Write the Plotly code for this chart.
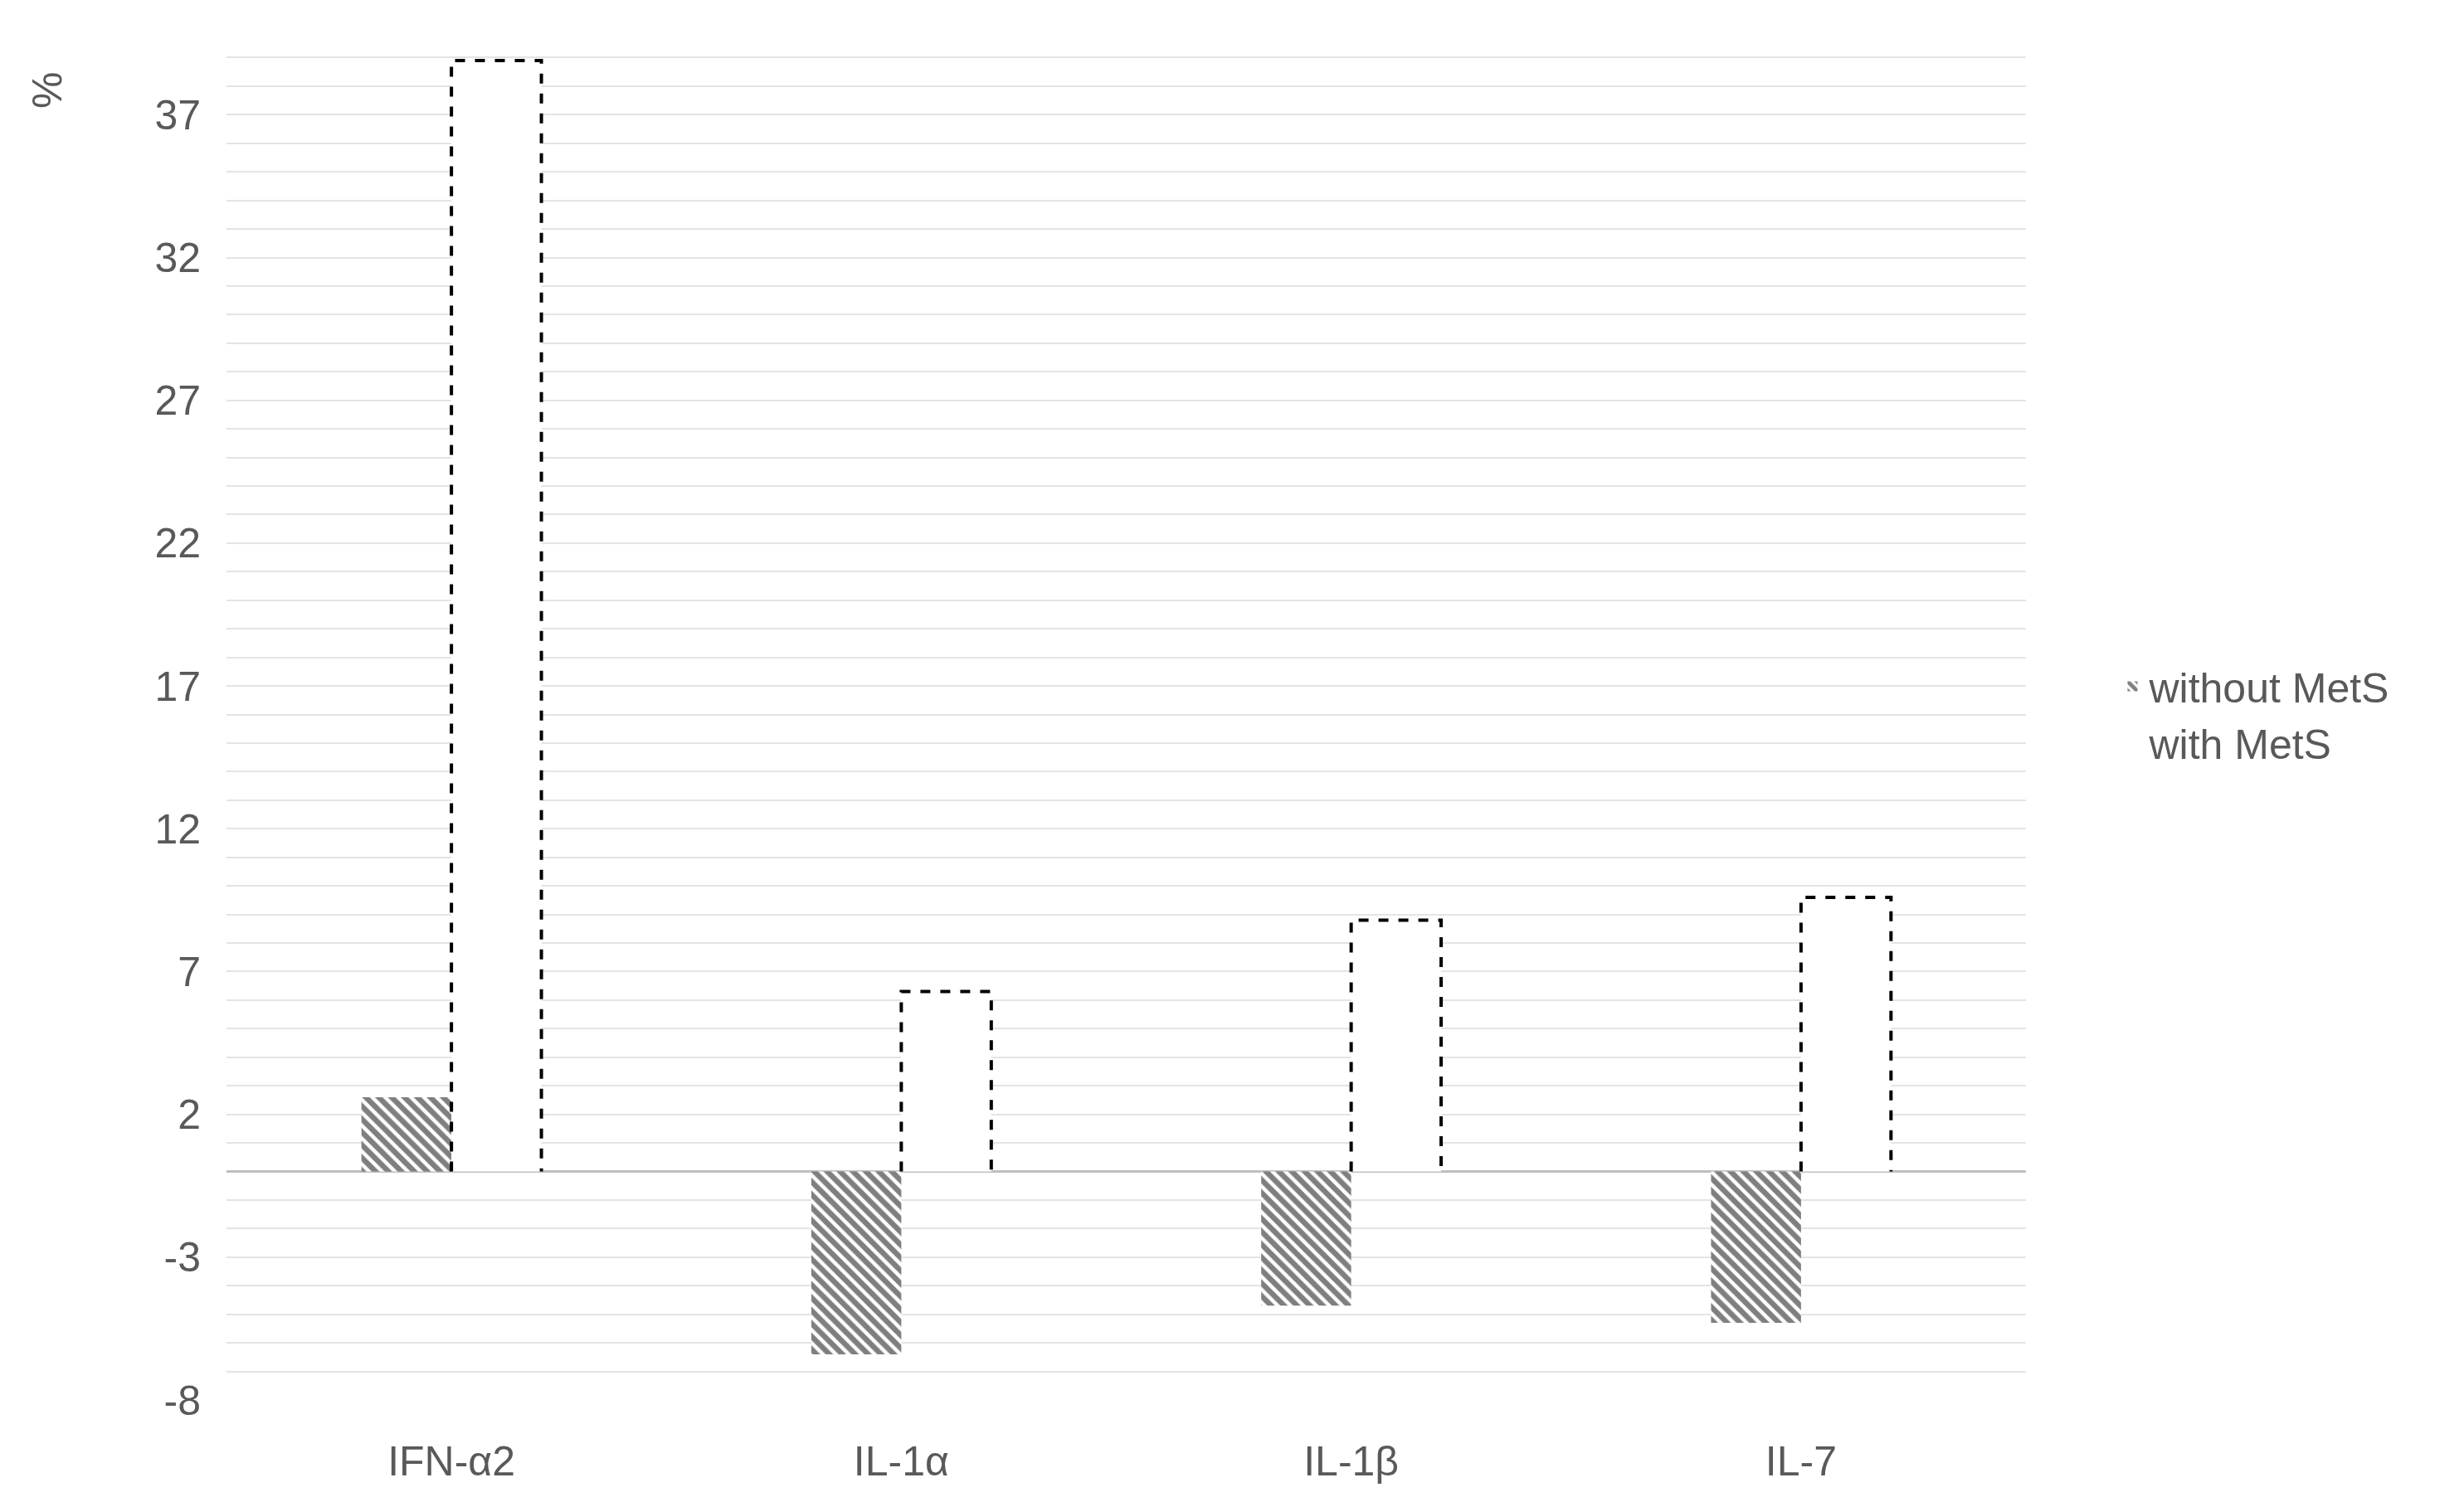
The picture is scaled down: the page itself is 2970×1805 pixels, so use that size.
import plotly.graph_objects as go

categories = ["IFN-α2", "IL-1α", "IL-1β", "IL-7"]
without_mets = [2.6, -6.4, -4.7, -5.3]
with_mets = [38.9, 6.3, 8.8, 9.6]
tick_vals = [-8, -3, 2, 7, 12, 17, 22, 27, 32, 37]
tick_text = [str(v) for v in tick_vals]

xs = list(range(len(categories)))
fig = go.Figure()
fig.add_bar(x=xs, y=without_mets, name="without MetS",
            marker=dict(color="white", line=dict(width=0),
                        pattern=dict(shape="\\", fgcolor="black", bgcolor="white", size=11, solidity=0.6)))
fig.add_bar(x=xs, y=with_mets, name="with MetS",
            marker=dict(color="white", line=dict(color="black", width=0)))
w = 0.2
for i, v in zip(xs, with_mets):
    fig.add_scatter(x=[i, i, i + w, i + w], y=[0, v, v, 0], mode="lines",
                    line=dict(color="black", width=4, dash="dash"), showlegend=False, hoverinfo="skip")

fig.update_layout(
    width=2970, height=1805, barmode="group", bargap=0.6, bargroupgap=0,
    plot_bgcolor="white", paper_bgcolor="white",
    margin=dict(l=265, r=536, t=27, b=125),
    font=dict(family="Liberation Sans, Arial", size=50, color="#595959"),
    legend=dict(x=1.05, y=0.5, yanchor="middle", font=dict(size=50, color="#595959"),
                itemwidth=30, tracegroupgap=60),
    xaxis=dict(tickvals=xs, ticktext=categories, range=[-0.5, 3.5], showgrid=False,
               showline=False, ticks="", zeroline=False, ticklabelstandoff=40),
    yaxis=dict(range=[-8, 40], tickvals=tick_vals, ticktext=tick_text, showgrid=True,
               gridcolor="#e4e4e4", gridwidth=2,
               zeroline=True, zerolinecolor="#bfbfbf", zerolinewidth=3, ticks="", ticklabelstandoff=30,
               minor=dict(dtick=1, tick0=-8, showgrid=True, gridcolor="#e4e4e4", gridwidth=2)),
    annotations=[dict(text="%", xref="paper", yref="paper", x=-0.1, y=0.97, xanchor="center",
                      textangle=90, showarrow=False, font=dict(size=50, color="#595959"))],
)
fig.write_html("out.html")
